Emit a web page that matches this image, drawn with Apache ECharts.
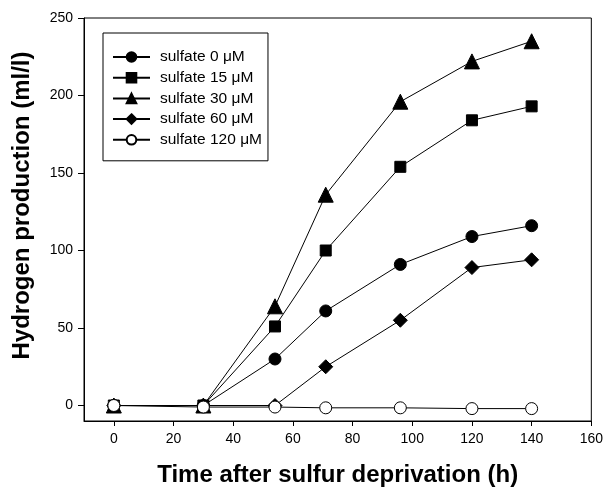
<!DOCTYPE html>
<html>
<head>
<meta charset="utf-8">
<script src="https://cdn.jsdelivr.net/npm/echarts@6/dist/echarts.min.js"></script>
<style>
  html, body { margin: 0; padding: 0; background: #fff; }
  #main { width: 606px; height: 494px; }
</style>
</head>
<body>
<div id="main"></div>
<script>
// hours after sulfur deprivation
var hours = [0, 30, 54, 71, 96, 120, 140];
// hydrogen production (ml/l), one list per sulfate level
var sulfate0 = [0, 0, 30, 61, 91, 109, 116];
var sulfate15 = [0, 0, 51, 100, 154, 184, 193];
var sulfate30 = [0, 0, 64, 136, 196, 222, 235];
var sulfate60 = [0, 0, 0, 25, 55, 89, 94];
var sulfate120 = [0, -1, -1, -1.5, -1.5, -2, -2];

var xTicks = [0, 20, 40, 60, 80, 100, 120, 140, 160];
var yTicks = [0, 50, 100, 150, 200, 250];

var font = '"Liberation Sans", Arial, sans-serif';

function pairs(vals) {
    var out = [];
    for (var i = 0; i < hours.length; i++) {
        out.push([hours[i], vals[i]]);
    }
    return out;
}

function makeSeries(name, vals, symbol, size, fill) {
    return {
        name: name,
        type: 'line',
        data: pairs(vals),
        symbol: symbol,
        symbolSize: size,
        showAllSymbol: true,
        lineStyle: { color: '#000', width: 1 },
        itemStyle: { color: fill, borderColor: '#000', borderWidth: 1 },
        emphasis: { disabled: true },
        animation: false
    };
}

var myChart = echarts.init(document.getElementById('main'));
var option = {
    animation: false,
    textStyle: { fontFamily: font },
    grid: {
        left: 84, right: 14, top: 18, bottom: 73,
        show: true, borderColor: '#000', borderWidth: 1
    },
    legend: {
        orient: 'vertical',
        left: 103,
        top: 33,
        padding: [16, 6, 13, 9],
        itemWidth: 37,
        itemHeight: 12,
        itemGap: 4.7,
        borderColor: '#000',
        borderWidth: 1,
        textStyle: { color: '#000', fontSize: 15.5, fontFamily: font, padding: [0, 0, 0, 5] },
        data: ['sulfate 0 μM', 'sulfate 15 μM', 'sulfate 30 μM', 'sulfate 60 μM', 'sulfate 120 μM']
    },
    xAxis: {
        type: 'value',
        min: -10,
        max: 160,
        name: 'Time after sulfur deprivation (h)',
        nameLocation: 'middle',
        nameGap: 42,
        nameTextStyle: { color: '#000', fontSize: 24, fontWeight: 'bold', fontFamily: font },
        axisLine: { onZero: false, lineStyle: { color: '#000', width: 1 } },
        axisTick: { length: 5, lineStyle: { color: '#000' }, customValues: xTicks },
        axisLabel: { color: '#000', fontSize: 14, margin: 11, customValues: xTicks },
        splitLine: { show: false }
    },
    yAxis: {
        type: 'value',
        min: -10,
        max: 250,
        name: 'Hydrogen production (ml/l)',
        nameLocation: 'middle',
        nameGap: 50,
        nameTextStyle: { color: '#000', fontSize: 24, fontWeight: 'bold', fontFamily: font, padding: [0, 0, 0, 28] },
        axisLine: { onZero: false, lineStyle: { color: '#000', width: 1 } },
        axisTick: { length: 6, lineStyle: { color: '#000' }, customValues: yTicks },
        axisLabel: { color: '#000', fontSize: 14, margin: 11, customValues: yTicks },
        splitLine: { show: false }
    },
    series: [
        makeSeries('sulfate 0 μM', sulfate0, 'circle', 12, '#000'),
        makeSeries('sulfate 15 μM', sulfate15, 'rect', 11, '#000'),
        makeSeries('sulfate 30 μM', sulfate30, 'triangle', 15, '#000'),
        makeSeries('sulfate 60 μM', sulfate60, 'diamond', 14, '#000'),
        makeSeries('sulfate 120 μM', sulfate120, 'circle', 12, '#fff')
    ]
};
myChart.setOption(option);
</script>
</body>
</html>
